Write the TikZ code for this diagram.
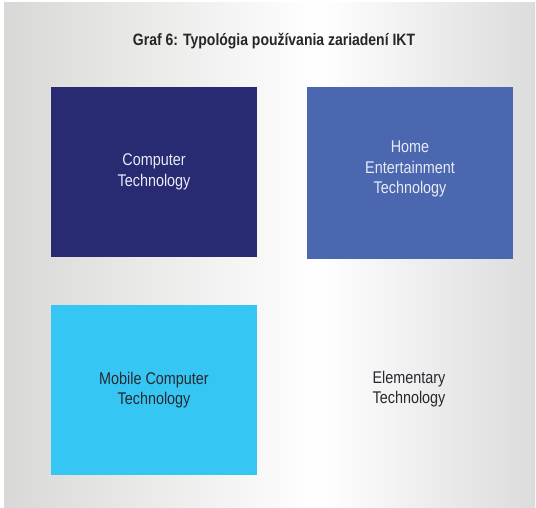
\documentclass[tikz,border=0pt]{standalone}
\usepackage{fontspec}
\setmainfont{Liberation Sans}[FakeStretch=0.85]
\definecolor{panelL}{HTML}{D8D8D6}
\definecolor{panelR}{HTML}{DCDCDC}
\definecolor{navy}{HTML}{282A72}
\definecolor{midblue}{HTML}{4A67B0}
\definecolor{skyblue}{HTML}{36C6F3}
\definecolor{lighttext}{HTML}{E8EAF4}
\definecolor{darktext}{HTML}{262A30}
\begin{document}
\begin{tikzpicture}[x=1bp,y=-1bp,
  tile/.style={rectangle, inner sep=0pt, draw=none, align=center,
    minimum width=206bp, minimum height=170bp,
    font=\fontsize{17}{20.5}\selectfont},
  caption/.style={align=center, font=\fontsize{17}{20.5}\selectfont, text=darktext},
  heading/.style={font=\bfseries\fontsize{16.5}{19}\selectfont, text=black!85}]
  \useasboundingbox (0,0) rectangle (536,508);
  \fill[white] (0,0) rectangle (536,508);
  % panel with horizontal grey-white-grey gradient
  \shade[left color=panelL, right color=white] (4,3) rectangle (318,508);
  \shade[left color=white, right color=panelR] (318,3) rectangle (535,508);

  \node[heading] (title) at (274,41) {Graf 6: Typológia používania zariadení IKT};

  \node[tile, fill=navy, text=lighttext] (ct) at (154,172) {Computer\\Technology};
  \node[tile, fill=midblue, text=lighttext, minimum width=206bp, minimum height=172bp] (het) at (410,173) {};
  \node[caption, text=lighttext] (hetlabel) at (410,169) {Home\\Entertainment\\Technology};
  \node[tile, fill=skyblue, text=darktext] (mct) at (154,390) {Mobile Computer\\Technology};
  \node[caption] (et) at (409,389) {Elementary\\Technology};
\end{tikzpicture}
\end{document}
